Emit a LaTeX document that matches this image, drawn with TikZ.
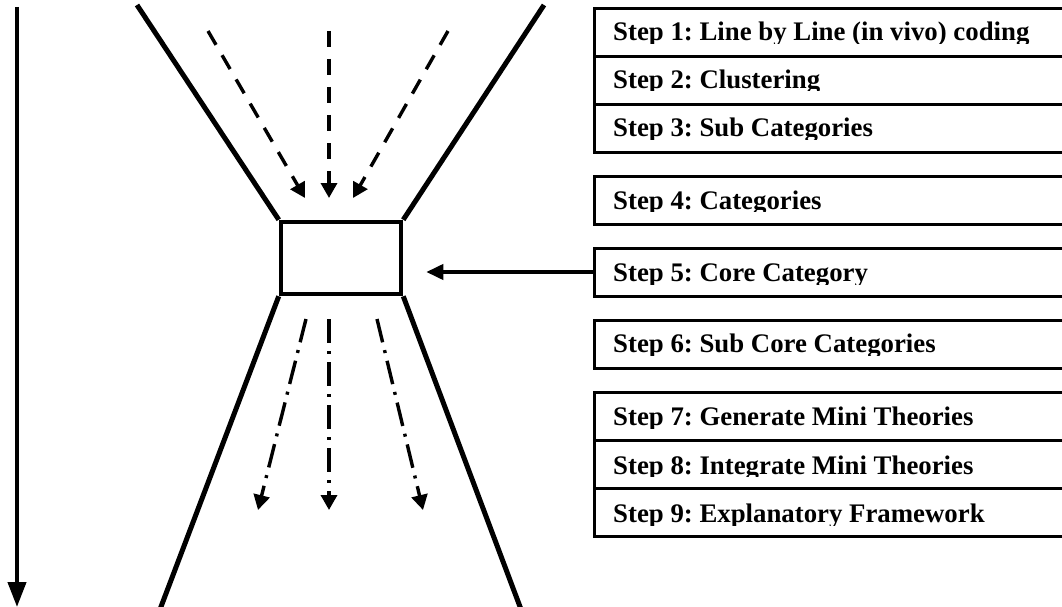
\documentclass[tikz,border=0pt]{standalone}
\usepackage{fontspec}
\setmainfont{Liberation Serif}
\usetikzlibrary{arrows.meta}
\frenchspacing
\begin{document}
\begin{tikzpicture}[x=1pt,y=-1pt,
  funnel/.style={line width=5pt, line cap=butt},
  corebox/.style={draw, line width=4.5pt, minimum width=120pt, minimum height=72pt, inner sep=0pt},
  rowbox/.style={draw, line width=3pt, minimum width=520pt, minimum height=48pt, inner sep=0pt, anchor=north west},
  steptext/.style={anchor=base west, inner sep=0pt, font=\fontsize{26.8}{30}\selectfont\bfseries},
  inflow/.style={line width=3.4pt, dash pattern=on 16pt off 12pt, -{Triangle[length=15pt,width=16pt]}},
  outflow/.style={line width=3.4pt, dash pattern=on 24pt off 8pt on 3pt off 8pt, -{Triangle[length=15pt,width=16pt]}},
  pointer/.style={line width=3.8pt, -{Triangle[length=17pt,width=15pt]}},
  timeline/.style={line width=4.2pt, -{Triangle[length=25pt,width=18pt]}}
]
\useasboundingbox (0,0) rectangle (1062,607);
\clip (0,0) rectangle (1062,607);

% core category box at the waist of the funnel
\node[corebox] (core) at (341,258) {};

% funnel walls
\coordinate (tl) at (137,5);
\coordinate (tr) at (544,5);
\coordinate (bl) at (159,612);
\coordinate (br) at (522,612);
\draw[funnel] (tl) -- (core.north west);
\draw[funnel] (tr) -- (core.north east);
\draw[funnel] (bl) -- (core.south west);
\draw[funnel] (br) -- (core.south east);

% data flowing in
\coordinate (ia) at (208,31);  \coordinate (ja) at (305,198);
\coordinate (ib) at (329,31);  \coordinate (jb) at (329,198);
\coordinate (ic) at (448,31);  \coordinate (jc) at (353,198);
\draw[inflow] (ia) -- (ja);
\draw[inflow] (ib) -- (jb);
\draw[inflow] (ic) -- (jc);

% theory flowing out
\coordinate (oa) at (306,319); \coordinate (pa) at (258,510);
\coordinate (ob) at (329,319); \coordinate (pb) at (329,510);
\coordinate (oc) at (377,319); \coordinate (pc) at (423,510);
\draw[outflow] (oa) -- (pa);
\draw[outflow] (ob) -- (pb);
\draw[outflow] (oc) -- (pc);

% process direction
\coordinate (t0) at (17,7);
\coordinate (t1) at (17,607);
\draw[timeline] (t0) -- (t1);

% step boxes
\node[rowbox] (s1) at (593,7)   {};
\node[rowbox] (s2) at (593,55)  {};
\node[rowbox] (s3) at (593,103) {};
\node[rowbox] (s4) at (593,175) {};
\node[rowbox] (s5) at (593,247) {};
\node[rowbox] (s6) at (593,319) {};
\node[rowbox] (s7) at (593,391) {};
\node[rowbox] (s8) at (593,439) {};
\node[rowbox] (s9) at (593,487) {};

% step labels, cut off just below the baseline
\begin{scope}\clip (593,7) rectangle (1062,43.6);
  \node[steptext] (l1) at (613,41) {Step 1: Line by Line (in vivo) coding};\end{scope}
\begin{scope}\clip (593,55) rectangle (1062,90.7);
  \node[steptext] (l2) at (613,88.3) {Step 2: Clustering};\end{scope}
\begin{scope}\clip (593,103) rectangle (1062,139.3);
  \node[steptext] (l3) at (613,136.8) {Step 3: Sub Categories};\end{scope}
\begin{scope}\clip (593,175) rectangle (1062,211.7);
  \node[steptext] (l4) at (613,209.2) {Step 4: Categories};\end{scope}
\begin{scope}\clip (593,247) rectangle (1062,284);
  \node[steptext] (l5) at (613,281.5) {Step 5: Core Category};\end{scope}
\begin{scope}\clip (593,319) rectangle (1062,355);
  \node[steptext] (l6) at (613,352.5) {Step 6: Sub Core Categories};\end{scope}
\begin{scope}\clip (593,391) rectangle (1062,428.3);
  \node[steptext] (l7) at (613,425.8) {Step 7: Generate Mini Theories};\end{scope}
\begin{scope}\clip (593,439) rectangle (1062,476.7);
  \node[steptext] (l8) at (613,474.2) {Step 8: Integrate Mini Theories};\end{scope}
\begin{scope}\clip (593,487) rectangle (1062,525);
  \node[steptext] (l9) at (613,522.5) {Step 9: Explanatory Framework};\end{scope}

% the core category points back into the funnel
\draw[pointer] (s5.west |- 0,272) -- ([xshift=23pt]core.east |- 0,272);
\end{tikzpicture}
\end{document}
